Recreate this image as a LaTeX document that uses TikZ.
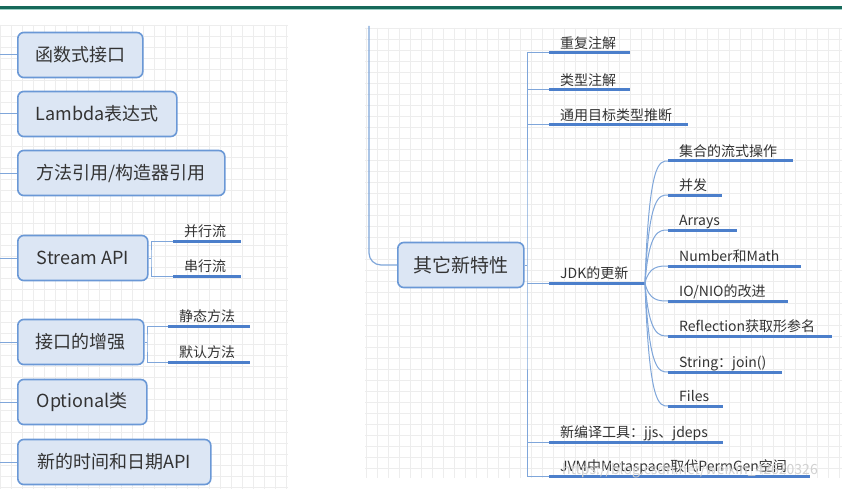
\documentclass[tikz,border=0pt]{standalone}
\usepackage{fontspec}
\setmainfont{Noto Sans CJK SC}
\usetikzlibrary{calc}
\definecolor{boxfill}{HTML}{DCE6F4}
\definecolor{boxborder}{HTML}{6A98D6}
\definecolor{thickc}{HTML}{4C7FCB}
\definecolor{thinc}{HTML}{7FA6DA}
\definecolor{txt}{HTML}{333333}
\definecolor{gridc}{HTML}{EDEDED}
\definecolor{topgreen}{HTML}{16695A}
\definecolor{toplight}{HTML}{9CCFC4}
\newcommand\mmitem[5]{%
  \coordinate (#1s) at (#2,#4);
  \coordinate (#1e) at (#3,#4);
  \node[lbl] (#1) at (#2+11,#4-4) {#5};
  \draw[uline] (#1s) -- (#1e);}
\begin{document}
\begin{tikzpicture}[x=1pt,y=-1pt,
  box/.style={draw=boxborder, line width=1.6pt, fill=boxfill, rounded corners=6pt,
    minimum height=45pt, font=\fontsize{18}{20}\selectfont, text=txt, anchor=west, inner xsep=0pt},
  lbl/.style={font=\fontsize{14}{16}\selectfont, text=txt, anchor=south west, inner sep=0pt, text depth=0pt},
  uline/.style={draw=thickc, line width=3pt},
  conn/.style={draw=thinc, line width=1pt},
  gridline/.style={draw=gridc, line width=0.6pt}]
\useasboundingbox (0,0) rectangle (842,489);
\fill[white] (0,0) rectangle (842,489);
% background grids
\foreach \x in {0,11,...,288} \draw[gridline] (\x,25) -- (\x,489);
\foreach \y in {25,36,...,489} \draw[gridline] (0,\y) -- (288,\y);
\foreach \x in {366,377,...,842} \draw[gridline] (\x,28) -- (\x,478);
\foreach \y in {28,39,...,478} \draw[gridline] (365,\y) -- (842,\y);
% top rule
\draw[line width=3pt, topgreen] (0,7.5) -- (842,7.5);
\draw[line width=1pt, toplight] (0,10) -- (842,10);
\coordinate (edge) at (0,0);
% left boxes
\node[box, minimum width=125pt] (b1) at (17,55) {函数式接口};
\node[box, minimum width=159pt] (b2) at (17,114) {Lambda表达式};
\node[box, minimum width=207pt] (b3) at (17,173) {方法引用/构造器引用};
\node[box, minimum width=130pt] (b4) at (17,258) {Stream API};
\node[box, minimum width=126pt] (b5) at (17,342) {接口的增强};
\node[box, minimum width=129pt] (b6) at (17,402) {Optional类};
\node[box, minimum width=193pt] (b7) at (17,462) {新的时间和日期API};
\foreach \b in {b1,b2,b3,b4,b5,b6,b7} \draw[conn] (\b.west) -- (\b.west -| edge);
% stream sub-items
\mmitem{s1}{173}{241}{241}{并行流}
\mmitem{s2}{173}{241}{276}{串行流}
\coordinate (sbar) at (151,258);
\draw[conn] (b4.east) -- (sbar);
\draw[conn] (s1s) -| (sbar) |- (s2s);
% interface sub-items
\mmitem{i1}{168}{250}{326}{静态方法}
\mmitem{i2}{168}{250}{362}{默认方法}
\coordinate (ibar) at (147,342);
\draw[conn] (b5.east) -- (ibar);
\draw[conn] (i1s) -| (ibar) |- (i2s);
% right main node
\node[box, minimum width=126pt, font=\fontsize{19}{21}\selectfont] (other) at (397,265) {其它新特性};
\coordinate (ltop) at (369,26);
\draw[conn, line width=1.2pt, rounded corners=12pt] (ltop) |- (other.west);
% first level items
\mmitem{r1}{549}{630}{53}{重复注解}
\mmitem{r2}{549}{630}{90}{类型注解}
\mmitem{r3}{549}{688}{125}{通用目标类型推断}
\mmitem{r4}{549}{645}{283}{JDK的更新}
\mmitem{r5}{549}{723}{442}{新编译工具：jjs、jdeps}
\mmitem{r6}{549}{810}{476}{JVM中Metaspace取代PermGen空间}
\coordinate (rbar) at (527,265);
\draw[conn] (other.east) -- (rbar);
\draw[conn] (r1s) -| (rbar) |- (r6s);
\foreach \r in {r2,r3,r4,r5} \draw[conn] (rbar |- \r s) -- (\r s);
% JDK sub-items
\mmitem{j1}{668}{793}{161}{集合的流式操作}
\mmitem{j2}{668}{722}{195}{并发}
\mmitem{j3}{668}{737}{230}{Arrays}
\mmitem{j4}{668}{801}{266}{Number和Math}
\mmitem{j5}{668}{788}{301}{IO/NIO的改进}
\mmitem{j6}{668}{832}{336}{Reflection获取形参名}
\mmitem{j7}{668}{782}{372}{String：join()}
\mmitem{j8}{668}{723}{406}{Files}
\foreach \j in {j1,j2,j3,j4,j5,j6,j7,j8}
  \draw[conn] (r4e) .. controls ($(r4e |- \j s)+(4,0)$) and ($(\j s)+(-9,0)$) .. (\j s);
% watermark
\node[font=\fontsize{14}{16}\selectfont, text=black!18, anchor=west, inner sep=0pt] (wm) at (562,471) {https://blog.csdn.net/weixin\_42620326};
\end{tikzpicture}
\end{document}
